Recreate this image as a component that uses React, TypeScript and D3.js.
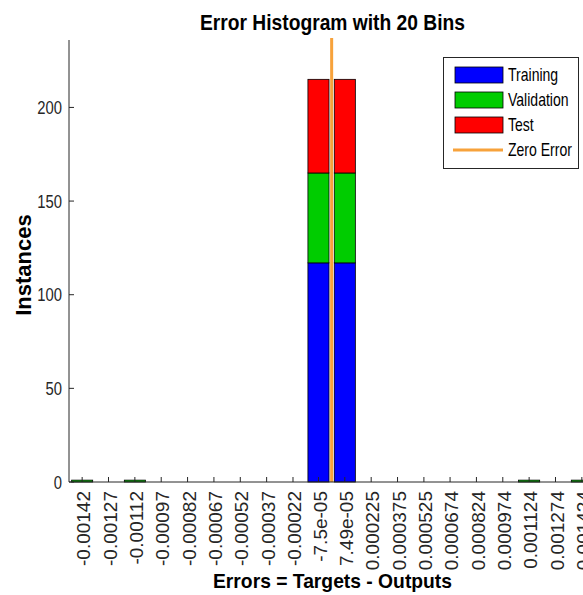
import { useEffect, useRef } from 'react'
import * as d3 from 'd3'

// bin centers (errors) and the tick labels MATLAB printed for them
const binCenters = [
  -0.00142, -0.00127, -0.00112, -0.00097, -0.00082, -0.00067, -0.00052, -0.00037, -0.00022, -0.000075,
  0.0000749, 0.000225, 0.000375, 0.000525, 0.000674, 0.000824, 0.000974, 0.001124, 0.001274, 0.001424,
]
const tickLabels = [
  '-0.00142', '-0.00127', '-0.00112', '-0.00097', '-0.00082', '-0.00067', '-0.00052', '-0.00037', '-0.00022', '-7.5e-05',
  '7.49e-05', '0.000225', '0.000375', '0.000525', '0.000674', '0.000824', '0.000974', '0.001124', '0.001274', '0.001424',
]
const training = [0, 0, 0, 0, 0, 0, 0, 0, 0, 117, 117, 0, 0, 0, 0, 0, 0, 0, 0, 0]
const validation = [1, 0, 1, 0, 0, 0, 0, 0, 0, 48, 48, 0, 0, 0, 0, 0, 0, 1, 0, 1]
const test = [0, 0, 0, 0, 0, 0, 0, 0, 0, 50, 50, 0, 0, 0, 0, 0, 0, 0, 0, 0]
const yTicks = [0, 50, 100, 150, 200]
const seriesNames = ['Training', 'Validation', 'Test']
const seriesColors = ['#0000ff', '#00cc00', '#ff0000']
const zeroColor = '#f7a23b'

const W = 583
const H = 595
const FONT = '"Liberation Sans", Arial, Helvetica, sans-serif'
const INK = '#262626'

export default function App() {
  const svgRef = useRef<SVGSVGElement>(null)

  useEffect(() => {
    if (!svgRef.current) return
    const svg = d3.select(svgRef.current)
    svg.selectAll('*').remove()

    const left = 69
    const top = 40
    const bottom = 482
    const binW = (binCenters[19] - binCenters[0]) / 19
    const x = d3.scaleLinear()
      .domain([binCenters[0] - binW / 2, binCenters[19] + binW / 2])
      .range([left, 595])
    const y = d3.scaleLinear().domain([0, 236]).range([bottom, top])
    const barW = (x(binCenters[1]) - x(binCenters[0])) * 0.8

    svg.append('rect').attr('width', W).attr('height', H).attr('fill', '#fff')

    // stacked bars: training, validation, test
    const series = [training, validation, test]
    const stacked = d3.stack<number>()
      .keys(['0', '1', '2'])
      .value((i, k) => series[+k][i])(d3.range(binCenters.length))

    stacked.forEach((layer, si) => {
      const g = svg.append('g')
      layer.forEach((d, i) => {
        if (d[1] - d[0] <= 0) return
        g.append('rect')
          .attr('x', x(binCenters[i]) - barW / 2)
          .attr('y', y(d[1]))
          .attr('width', barW)
          .attr('height', y(d[0]) - y(d[1]))
          .attr('fill', seriesColors[si])
          .attr('stroke', '#000')
          .attr('stroke-width', 0.8)
      })
    })

    // zero error line
    svg.append('line')
      .attr('x1', x(0)).attr('x2', x(0))
      .attr('y1', 38).attr('y2', bottom)
      .attr('stroke', zeroColor).attr('stroke-width', 3)

    // axes (box off, ticks inward)
    svg.append('line').attr('x1', left).attr('x2', W).attr('y1', bottom).attr('y2', bottom)
      .attr('stroke', INK).attr('stroke-width', 1)
    svg.append('line').attr('x1', left).attr('x2', left).attr('y1', top).attr('y2', bottom)
      .attr('stroke', INK).attr('stroke-width', 1)

    binCenters.forEach((c, i) => {
      const tx = x(c)
      svg.append('line').attr('x1', tx).attr('x2', tx).attr('y1', bottom).attr('y2', bottom - 5)
        .attr('stroke', INK).attr('stroke-width', 1)
      svg.append('text')
        .attr('transform', `translate(${tx + 1.5},491) rotate(-90)`)
        .attr('text-anchor', 'end')
        .attr('dy', '0.35em')
        .attr('font-family', FONT)
        .attr('font-size', 19)
        .attr('fill', INK)
        .text(tickLabels[i])
    })

    yTicks.forEach((t) => {
      svg.append('line').attr('x1', left).attr('x2', left + 5).attr('y1', y(t)).attr('y2', y(t))
        .attr('stroke', INK).attr('stroke-width', 1)
      svg.append('text')
        .attr('transform', `translate(62,${y(t)}) scale(0.78,1)`)
        .attr('text-anchor', 'end')
        .attr('dy', '0.35em')
        .attr('font-family', FONT)
        .attr('font-size', 19)
        .attr('fill', INK)
        .text(t)
    })

    // title and axis labels
    svg.append('text')
      .attr('x', 200).attr('y', 30)
      .attr('textLength', 265).attr('lengthAdjust', 'spacingAndGlyphs')
      .attr('font-family', FONT).attr('font-size', 22).attr('font-weight', 'bold')
      .attr('fill', '#000')
      .text('Error Histogram with 20 Bins')
    svg.append('text')
      .attr('x', 213).attr('y', 588)
      .attr('textLength', 239).attr('lengthAdjust', 'spacingAndGlyphs')
      .attr('font-family', FONT).attr('font-size', 21).attr('font-weight', 'bold')
      .attr('fill', '#000')
      .text('Errors = Targets - Outputs')
    svg.append('text')
      .attr('transform', 'translate(31,265) rotate(-90)')
      .attr('text-anchor', 'middle')
      .attr('font-family', FONT).attr('font-size', 22).attr('font-weight', 'bold')
      .attr('fill', '#000')
      .text('Instances')

    // legend
    const lg = svg.append('g')
    lg.append('rect').attr('x', 443.5).attr('y', 57.5).attr('width', 135).attr('height', 111)
      .attr('fill', '#fff').attr('stroke', INK).attr('stroke-width', 1)
    const rows = [75, 100, 125, 150]
    seriesNames.forEach((name, i) => {
      lg.append('rect').attr('x', 455).attr('y', rows[i] - 8).attr('width', 48).attr('height', 16)
        .attr('fill', seriesColors[i]).attr('stroke', '#000').attr('stroke-width', 0.8)
      lg.append('text')
        .attr('transform', `translate(508,${rows[i]}) scale(0.78,1)`)
        .attr('dy', '0.35em')
        .attr('font-family', FONT).attr('font-size', 18).attr('fill', '#000')
        .text(name)
    })
    lg.append('line').attr('x1', 453).attr('x2', 503).attr('y1', rows[3]).attr('y2', rows[3])
      .attr('stroke', zeroColor).attr('stroke-width', 3)
    lg.append('text')
      .attr('transform', `translate(508,${rows[3]}) scale(0.78,1)`)
      .attr('dy', '0.35em')
      .attr('font-family', FONT).attr('font-size', 18).attr('fill', '#000')
      .text('Zero Error')
  }, [])

  return (
    <svg
      ref={svgRef}
      width={W}
      height={H}
      style={{ position: 'absolute', left: 0, top: 0, display: 'block' }}
    />
  )
}
